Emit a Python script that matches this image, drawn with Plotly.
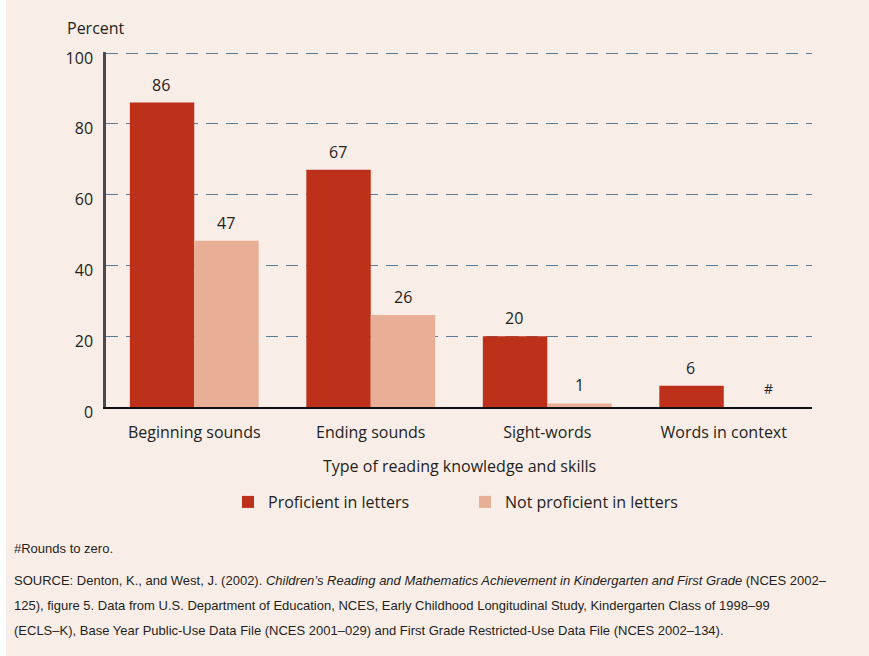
import plotly.graph_objects as go

categories = ["Beginning sounds", "Ending sounds", "Sight-words", "Words in context"]
proficient = [86, 67, 20, 6]
not_proficient = [47, 26, 1, 0]
proficient_labels = ["86", "67", "20", "6"]
not_proficient_labels = ["47", "26", "1", "#"]
y_ticks = [0, 20, 40, 60, 80, 100]

W, H = 869, 656
L, R, T, B = 106, 57, 52, 249
PW, PH = W - L - R, H - T - B

def px(x):
    return (x - L) / PW

def py(y):
    return (H - B - y) / PH

BG = "#F9EDE8"
RED = "#BD3019"
PINK = "#E8AE96"
FONT = "Open Sans"
NOTE = "Liberation Sans"

fig = go.Figure()
fig.add_trace(go.Bar(x=categories, y=proficient, name="Proficient in letters",
                     marker=dict(color=RED, line=dict(width=0))))
fig.add_trace(go.Bar(x=categories, y=not_proficient, name="Not proficient in letters",
                     marker=dict(color=PINK, line=dict(width=0))))

annotations = []
for cat, v, lab in zip(categories, proficient, proficient_labels):
    annotations.append(dict(x=cat, y=v, text=lab, xref="x", yref="y", showarrow=False,
                            xshift=-33, yshift=18, font=dict(size=16, color="#231f20", family=FONT)))
for cat, v, lab in zip(categories, not_proficient, not_proficient_labels):
    annotations.append(dict(x=cat, y=v, text=lab, xref="x", yref="y", showarrow=False,
                            xshift=32 if lab != "#" else 45, yshift=18 if lab != "#" else 19,
                            font=dict(size=16 if lab != "#" else 14, color="#231f20", family=FONT)))

annotations += [
    dict(x=px(65), y=py(28), xref="paper", yref="paper", text="Percent", showarrow=False,
         xanchor="left", yanchor="middle", font=dict(size=16, color="#231f20", family=FONT)),
    dict(x=px(459), y=py(466), xref="paper", yref="paper", text="Type of reading knowledge and skills",
         showarrow=False, xanchor="center", yanchor="middle",
         font=dict(size=16, color="#231f20", family=FONT)),
    dict(x=px(12), y=py(548), xref="paper", yref="paper", text="#Rounds to zero.", showarrow=False,
         xanchor="left", yanchor="middle", font=dict(size=13, color="#231f20", family=NOTE)),
    dict(x=px(12), y=py(580), xref="paper", yref="paper",
         text="SOURCE: Denton, K., and West, J. (2002). <i>Children’s Reading and Mathematics Achievement in Kindergarten and First Grade</i> (NCES 2002–",
         showarrow=False, xanchor="left", yanchor="middle", font=dict(size=13, color="#231f20", family=NOTE)),
    dict(x=px(12), y=py(605), xref="paper", yref="paper",
         text="125), figure 5. Data from U.S. Department of Education, NCES, Early Childhood Longitudinal Study, Kindergarten Class of 1998–99",
         showarrow=False, xanchor="left", yanchor="middle", font=dict(size=13, color="#231f20", family=NOTE)),
    dict(x=px(12), y=py(630), xref="paper", yref="paper",
         text="(ECLS–K), Base Year Public-Use Data File (NCES 2001–029) and First Grade Restricted-Use Data File (NCES 2002–134).",
         showarrow=False, xanchor="left", yanchor="middle", font=dict(size=13, color="#231f20", family=NOTE)),
]

shapes = [
    dict(type="rect", xref="paper", yref="paper", x0=px(-2), x1=px(6), y0=py(-2), y1=py(660),
         fillcolor="white", line=dict(width=0), layer="below"),
]

fig.update_layout(
    width=W, height=H,
    margin=dict(l=L, r=R, t=T, b=B, autoexpand=False),
    paper_bgcolor=BG, plot_bgcolor=BG,
    barmode="group", bargap=0.27, bargroupgap=0,
    font=dict(family=FONT, size=16, color="#231f20"),
    showlegend=True,
    legend=dict(orientation="h", x=px(228), y=py(502), xanchor="left", yanchor="middle",
                bgcolor="rgba(0,0,0,0)", font=dict(size=16, family=FONT, color="#231f20"),
                itemwidth=30, tracegroupgap=0, traceorder="normal",
                entrywidth=192, entrywidthmode="pixels"),
    annotations=annotations,
    shapes=shapes,
    xaxis=dict(showgrid=False, ticks="", showline=True, linecolor="#111111", linewidth=2,
               tickfont=dict(size=16, family=FONT, color="#231f20"), zeroline=False,
               ticklabelstandoff=10),
    yaxis=dict(range=[0, 100.3], tickvals=y_ticks, showgrid=True, gridcolor="#5B7B96",
               griddash="12px,8px", gridwidth=1.3, showline=True, linecolor="#4a4855", linewidth=2.5,
               ticks="", zeroline=False, ticklabelstandoff=7, ticklabelshift=5,
               tickfont=dict(size=16, family=FONT, color="#231f20")),
)

fig.write_html("out.html", config={"displayModeBar": False},
               post_script="document.body.style.margin='0';document.body.style.background='%s';document.body.style.overflow='hidden';" % BG)
